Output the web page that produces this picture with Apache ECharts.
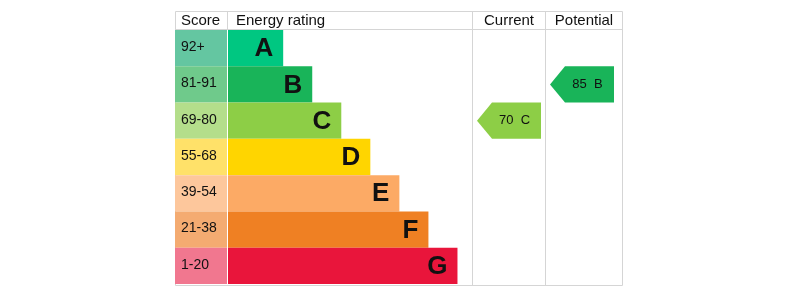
<!DOCTYPE html>
<html><head><meta charset="utf-8">
<script src="https://cdn.jsdelivr.net/npm/echarts@6/dist/echarts.min.js"></script>
<style>html,body{margin:0;padding:0;background:#fff}#c{width:800px;height:300px}</style>
</head><body><div id="c"></div>
<script>
// ---- data ----
const bands = ['A', 'B', 'C', 'D', 'E', 'F', 'G'];
const scoreRanges = ['92+', '81-91', '69-80', '55-68', '39-54', '21-38', '1-20'];
const bandLength = [1, 2, 3, 4, 5, 6, 7];
const bandColors = ['#00c781', '#19b459', '#8dce46', '#ffd500', '#fcaa65', '#ef8023', '#e9153b'];
const scoreColors = ['#64c6a1', '#6fca8b', '#b4de8b', '#ffe169', '#fdc79c', '#f4ab71', '#f1778f'];
const headers = ['Score', 'Energy rating', 'Current', 'Potential'];
const currentScore = 70, currentBand = 'C';
const potentialScore = 85, potentialBand = 'B';

const FONT = '"Liberation Sans", Arial, sans-serif';
const LINE = '#d5d5d5';

const chart = echarts.init(document.getElementById('c'), null, {renderer: 'canvas'});

function yCat(gi) {
  return {type: 'category', data: bands, inverse: true, gridIndex: gi, show: false,
          boundaryGap: true};
}

function scoreItem(params, api) {
  const idx = api.value(1);
  const c = api.coord([0, idx]);
  const h = api.size([0, 1])[1];
  const cs = params.coordSys;
  return {type: 'group', children: [
    {type: 'rect', shape: {x: cs.x, y: c[1] - h / 2, width: cs.width, height: h},
     style: {fill: scoreColors[idx]}},
    {type: 'text', x: cs.x + 6, y: c[1] - 1,
     style: {text: scoreRanges[idx], fill: '#111', font: '14px ' + FONT,
             verticalAlign: 'middle', align: 'left'}}
  ]};
}

function ratingItem(params, api) {
  const idx = api.value(1);
  const end = api.coord([api.value(0), idx]);
  const h = api.size([0, 1])[1];
  const cs = params.coordSys;
  return {type: 'group', children: [
    {type: 'rect', shape: {x: cs.x, y: end[1] - h / 2, width: end[0] - cs.x, height: h},
     style: {fill: bandColors[idx]}},
    {type: 'text', x: end[0] - 10, y: end[1] + 1,
     style: {text: bands[idx], fill: '#111', font: 'bold 26px ' + FONT,
             verticalAlign: 'middle', align: 'right'}}
  ]};
}

function arrowItem(params, api) {
  const idx = api.value(1);
  const c = api.coord([0, idx]);
  const h = api.size([0, 1])[1];
  const cs = params.coordSys;
  const left = cs.x + 5, right = cs.x + 69, notch = left + 15;
  const top = c[1] - h / 2, bot = c[1] + h / 2;
  return {type: 'group', children: [
    {type: 'polygon', shape: {points: [[left, c[1]], [notch, top], [right, top], [right, bot], [notch, bot]]},
     style: {fill: bandColors[idx]}},
    {type: 'text', x: (notch + right) / 2 - 2, y: c[1],
     style: {text: api.value(0) + '  ' + bands[idx], fill: '#111', font: '13px ' + FONT,
             verticalAlign: 'middle', align: 'center'}}
  ]};
}

const option = {
  animation: false,
  grid: [
    {left: 175, top: 30, width: 52, height: 254},
    {left: 228, top: 30, width: 244, height: 254},
    {left: 472, top: 30, width: 73, height: 254},
    {left: 545, top: 30, width: 77, height: 254}
  ],
  xAxis: [
    {type: 'value', gridIndex: 0, min: 0, max: 1, show: false},
    {type: 'value', gridIndex: 1, min: -0.9, max: 7.5, show: false},
    {type: 'value', gridIndex: 2, min: 0, max: 100, show: false},
    {type: 'value', gridIndex: 3, min: 0, max: 100, show: false}
  ],
  yAxis: [yCat(0), yCat(1), yCat(2), yCat(3)],
  graphic: [
    {type: 'rect', shape: {x: 175.5, y: 11.5, width: 447, height: 274}, style: {fill: 'none', stroke: LINE, lineWidth: 1}, z: 0},
    {type: 'line', shape: {x1: 175, y1: 29.5, x2: 622, y2: 29.5}, style: {stroke: LINE, lineWidth: 1}},
    {type: 'line', shape: {x1: 227.5, y1: 11, x2: 227.5, y2: 30}, style: {stroke: LINE, lineWidth: 1}},
    {type: 'line', shape: {x1: 472.5, y1: 11, x2: 472.5, y2: 285}, style: {stroke: LINE, lineWidth: 1}},
    {type: 'line', shape: {x1: 545.5, y1: 11, x2: 545.5, y2: 285}, style: {stroke: LINE, lineWidth: 1}},
    {type: 'text', x: 181, y: 21, style: {text: headers[0], font: '15px ' + FONT, fill: '#111', verticalAlign: 'middle', align: 'left'}},
    {type: 'text', x: 236, y: 21, style: {text: headers[1], font: '15px ' + FONT, fill: '#111', verticalAlign: 'middle', align: 'left'}},
    {type: 'text', x: 509, y: 21, style: {text: headers[2], font: '15px ' + FONT, fill: '#111', verticalAlign: 'middle', align: 'center'}},
    {type: 'text', x: 584, y: 21, style: {text: headers[3], font: '15px ' + FONT, fill: '#111', verticalAlign: 'middle', align: 'center'}}
  ],
  series: [
    {type: 'custom', xAxisIndex: 0, yAxisIndex: 0, renderItem: scoreItem, z: 3,
     encode: {x: 0, y: 1}, data: bands.map((b, i) => [1, i])},
    {type: 'custom', xAxisIndex: 1, yAxisIndex: 1, renderItem: ratingItem, z: 3,
     encode: {x: 0, y: 1}, data: bandLength.map((v, i) => [v, i])},
    {type: 'custom', xAxisIndex: 2, yAxisIndex: 2, renderItem: arrowItem, z: 3,
     encode: {x: 0, y: 1}, data: [[currentScore, bands.indexOf(currentBand)]]},
    {type: 'custom', xAxisIndex: 3, yAxisIndex: 3, renderItem: arrowItem, z: 3,
     encode: {x: 0, y: 1}, data: [[potentialScore, bands.indexOf(potentialBand)]]}
  ]
};
chart.setOption(option);
</script></body></html>
